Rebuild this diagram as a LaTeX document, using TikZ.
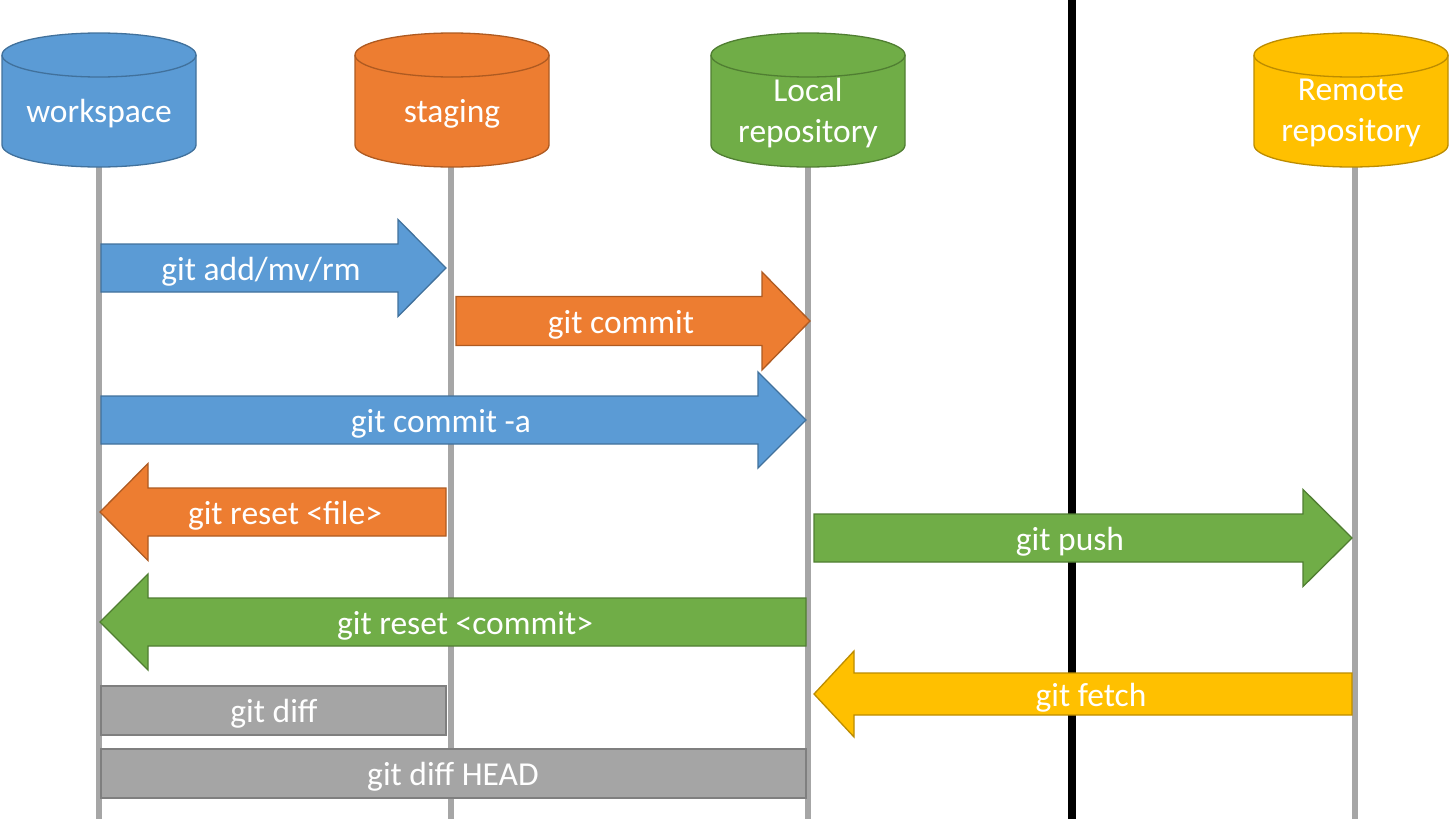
\documentclass[tikz,border=0pt]{standalone}
\usepackage{fontspec}
\setmainfont{Carlito}
\definecolor{cblue}{HTML}{5B9BD5}\definecolor{bblue}{HTML}{41719C}
\definecolor{corange}{HTML}{ED7D31}\definecolor{borange}{HTML}{AE5A21}
\definecolor{cgreen}{HTML}{70AD47}\definecolor{bgreen}{HTML}{507E32}
\definecolor{cyellow}{HTML}{FFC000}\definecolor{byellow}{HTML}{BC8C00}
\definecolor{cgray}{HTML}{A5A5A5}\definecolor{bgray}{HTML}{7F7F7F}
\definecolor{lgray}{HTML}{A6A6A6}
\newcommand\myblockarrow[8]{% tail x, head-base x, tip x, mid y, half shaft, half head, fill, draw
  \filldraw[fill=#7,draw=#8,line width=1.3pt,line join=miter]
    ({#1},{#4-#5}) -- ({#2},{#4-#5}) -- ({#2},{#4-#6}) -- ({#3},{#4}) --
    ({#2},{#4+#6}) -- ({#2},{#4+#5}) -- ({#1},{#4+#5}) -- cycle;}
\newcommand\mycylinder[4]{% center x, fill, draw, dummy
  \filldraw[fill=#2,draw=#3,line width=1.3pt]
    ({#1-97},55) -- ({#1-97},145) arc (180:0:97 and 22) -- ({#1+97},55) arc (0:-180:97 and 22) -- cycle;
  \draw[draw=#3,line width=1.3pt] ({#1-97},55) arc (180:0:97 and 22);}
\begin{document}
\begin{tikzpicture}[x=1pt,y=-1pt,
  lbl/.style={text=white,font=\fontsize{33.5}{40}\selectfont,inner sep=0pt,align=center},
  lifeline/.style={draw=lgray,line width=6pt},
  divider/.style={draw=black,line width=8pt}]
\useasboundingbox (0,0) rectangle (1450,819);
% lifelines
\coordinate (wsT) at (99,150); \coordinate (wsB) at (99,819);
\coordinate (stT) at (451,150); \coordinate (stB) at (451,819);
\coordinate (loT) at (808,150); \coordinate (loB) at (808,819);
\coordinate (reT) at (1355,150); \coordinate (reB) at (1355,819);
\coordinate (dvT) at (1072,0); \coordinate (dvB) at (1072,819);
\draw[lifeline] (wsT) -- (wsB);
\draw[lifeline] (stT) -- (stB);
\draw[lifeline] (loT) -- (loB);
\draw[lifeline] (reT) -- (reB);
\draw[divider] (dvT) -- (dvB);
% cylinders
\mycylinder{99}{cblue}{bblue}{}
\mycylinder{452}{corange}{borange}{}
\mycylinder{808}{cgreen}{bgreen}{}
\mycylinder{1351}{cyellow}{byellow}{}
\node[lbl] (ws) at (99,114) {workspace};
\node[lbl] (st) at (452,114) {staging};
\node[lbl] (lo) at (808,113) {Local\\[1pt]repository};
\node[lbl] (re) at (1351,113) {Remote\\[1pt]repository};
% arrows
\myblockarrow{101}{398}{446}{268}{24}{48.5}{cblue}{bblue}
\node[lbl] (add) at (261,272) {git add/mv/rm};
\myblockarrow{456}{762}{810}{321}{24.5}{49}{corange}{borange}
\node[lbl] (commit) at (621,325) {git commit};
\myblockarrow{101}{758}{806}{420}{24}{48}{cblue}{bblue}
\node[lbl] (commita) at (441,424) {git commit -a};
\myblockarrow{446}{148}{100}{512}{24}{48.5}{corange}{borange}
\node[lbl] (resetf) at (285,516) {git reset <file>};
\myblockarrow{814}{1303}{1352}{538}{24}{48.5}{cgreen}{bgreen}
\node[lbl] (push) at (1070,542) {git push};
\myblockarrow{806}{148}{100}{622}{24}{48}{cgreen}{bgreen}
\node[lbl] (resetc) at (465,626) {git reset <commit>};
\myblockarrow{1352}{854}{814}{694}{21}{43}{cyellow}{byellow}
\node[lbl] (fetch) at (1091,698) {git fetch};
% diff boxes
\filldraw[fill=cgray,draw=bgray,line width=1.3pt] (101,686) rectangle (446,735);
\node[lbl] (diff) at (274,714) {git diff};
\filldraw[fill=cgray,draw=bgray,line width=1.3pt] (101,749) rectangle (806,798);
\node[lbl] (diffh) at (453,777) {git diff HEAD};
\end{tikzpicture}
\end{document}
